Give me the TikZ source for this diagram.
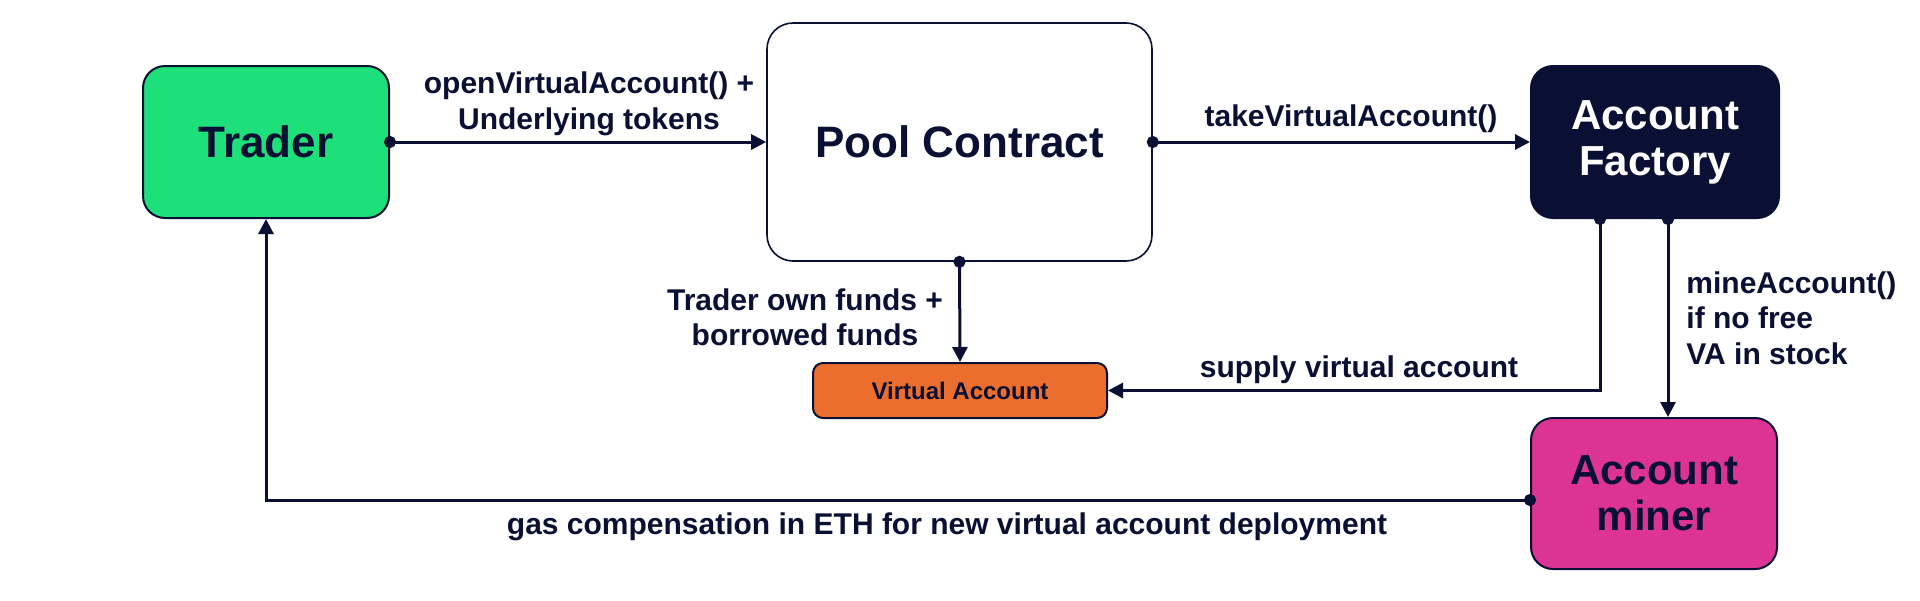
\documentclass[tikz,border=0pt]{standalone}
\usepackage{fontspec}
\setmainfont{Liberation Sans}
\usetikzlibrary{arrows.meta,calc}
\definecolor{navy}{HTML}{0A1033}
\definecolor{traderg}{HTML}{1DE07A}
\definecolor{vaorange}{HTML}{EC6E2E}
\definecolor{minerpink}{HTML}{DD3494}
\tikzset{
  box/.style={draw=navy, line width=1pt, rounded corners=11pt, align=center,
    font=\fontsize{22}{23}\selectfont\bfseries, text=navy, inner sep=0pt},
  flow/.style={draw=navy, line width=1.5pt, -{Triangle[length=7.5pt,width=7.5pt]}},
  dotflow/.style={flow, {Circle[length=6pt]}-{Triangle[length=7.5pt,width=7.5pt]}, shorten <=-3pt},
  lbl/.style={font=\fontsize{15}{17.7}\selectfont\bfseries, text=navy, align=center, inner sep=0pt}
}
\begin{document}
\begin{tikzpicture}[x=0.5pt,y=-0.5pt]
\useasboundingbox[fill=white] (0,0) rectangle (1920,600);
\node[box, fill=traderg, minimum width=123pt, minimum height=76pt] (trader) at (266,142) {Trader};
\node[box, fill=white, line width=0.8pt, rounded corners=13pt, minimum width=192.5pt, minimum height=119pt] (pool) at (959.5,142) {Pool Contract};
\node[box, fill=navy, text=white, minimum width=124pt, minimum height=76pt, font=\fontsize{21}{23}\selectfont\bfseries] (factory) at (1655,142) {Account\\Factory};
\node[box, fill=vaorange, rounded corners=5pt, minimum width=147pt, minimum height=27.5pt, font=\fontsize{12}{14}\selectfont\bfseries] (va) at (960,390.5) {Virtual Account};
\node[box, fill=minerpink, minimum width=123pt, minimum height=75.5pt, font=\fontsize{21}{23}\selectfont\bfseries] (miner) at (1654,493.5) {Account\\miner};

\draw[dotflow] (trader.east) -- (pool.west);
\draw[dotflow] (pool.east) -- (factory.west);
\draw[dotflow] (pool.south) -- (va.north);
\draw[dotflow] ([xshift=-27.5pt]factory.south) |- (va.east);
\coordinate (mtop) at ([xshift=6.5pt]factory.south);
\draw[dotflow] (mtop) -- (mtop |- miner.north);
\draw[dotflow] ([yshift=-3.25pt]miner.west) -| (trader.south);

\node[lbl] (l1) at (589,104) {openVirtualAccount() +\\Underlying tokens};
\node[lbl] (l2) at (1351,119) {takeVirtualAccount()};
\node[lbl] (l3) at (805,317) {Trader own funds +\\borrowed funds};
\node[lbl] (l4) at (1359,370) {supply virtual account};
\node[lbl, anchor=west, align=left] (l5) at (1686,318) {mineAccount()\\if no free\\VA in stock};
\node[lbl] (l6) at (947,527) {gas compensation in ETH for new virtual account deployment};
\end{tikzpicture}
\end{document}
